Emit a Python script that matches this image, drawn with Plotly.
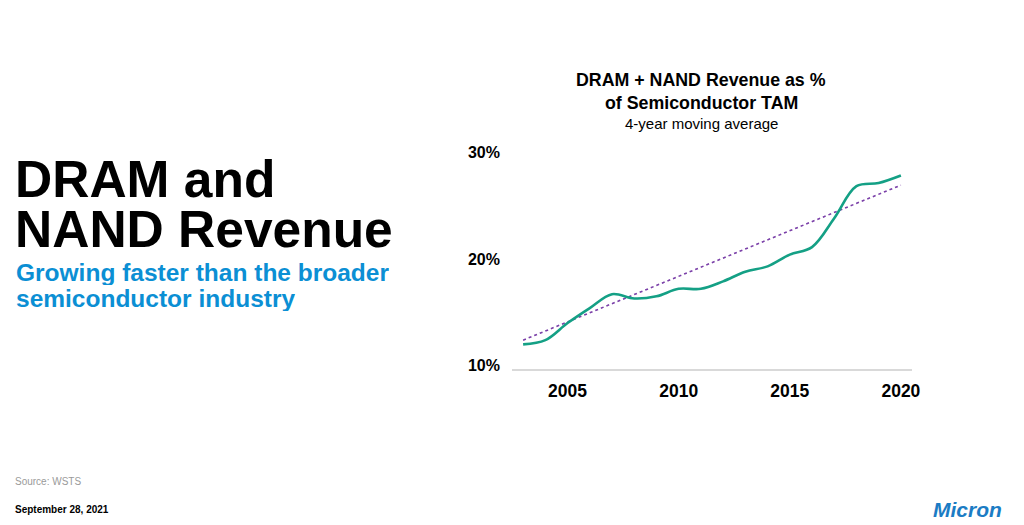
import plotly.graph_objects as go

years = [2003, 2004, 2005, 2006, 2007, 2008, 2009, 2010, 2011, 2012,
         2013, 2014, 2015, 2016, 2017, 2018, 2019, 2020]
share_pct = [12.0, 12.4, 14.0, 15.4, 16.7, 16.3, 16.5, 17.2, 17.2, 17.9,
             18.8, 19.3, 20.4, 21.1, 23.8, 26.8, 27.1, 27.8]
trend_years = [2003, 2020]
trend_pct = [12.4, 26.9]
x_ticks = [2005, 2010, 2015, 2020]
y_ticks = [10, 20, 30]

W, H = 1024, 525
L, R, T, B = 512, 912, 152, 369


def px(x):
    return (x - L) / (R - L)


def py(y):
    return (B - y) / (B - T)


FONT = "Liberation Sans, Arial, sans-serif"

fig = go.Figure()
fig.add_trace(go.Scatter(
    x=trend_years, y=trend_pct, mode="lines",
    line=dict(color="#7A3FA8", width=1.6, dash="dot"),
    hoverinfo="skip", showlegend=False))
fig.add_trace(go.Scatter(
    x=years, y=share_pct, mode="lines",
    line=dict(color="#14A085", width=2.6, shape="spline", smoothing=1.0),
    showlegend=False))

ann = []


def text(s, x, y, size, color="#000000", bold=False, xanchor="left", yanchor="middle",
         align="left", height=None):
    d = dict(text=s, x=px(x), y=py(y), xref="paper", yref="paper",
             showarrow=False, xanchor=xanchor, yanchor=yanchor, align=align,
             font=dict(family=FONT, size=size, color=color,
                       weight="bold" if bold else "normal"))
    if height:
        d["height"] = height
    ann.append(d)


text("DRAM and", 13, 179, 51.5, bold=True, height=48)
text("NAND Revenue", 13, 229, 51.5, bold=True, height=48)
text("Growing faster than the broader", 14, 272, 24.5, color="#0B8FD4", bold=True, height=25)
text("semiconductor industry", 14, 298, 24.5, color="#0B8FD4", bold=True, height=25)
text("DRAM + NAND Revenue as %", 701, 80, 17.8, bold=True, xanchor="center")
text("of Semiconductor TAM", 701, 103, 17.8, bold=True, xanchor="center")
text("4-year moving average", 701, 123, 15, xanchor="center")
text("Source: WSTS", 13, 481, 10, color="#9a9a9a")
text("September 28, 2021", 13, 509, 10, bold=True)
text("<i>Micron</i>", 967, 509, 21, color="#1B7CC4", bold=True, xanchor="center")

fig.update_layout(
    width=W, height=H, autosize=False,
    margin=dict(l=L, r=W - R, t=T, b=H - B, pad=0),
    paper_bgcolor="white", plot_bgcolor="white",
    annotations=ann,
    xaxis=dict(range=[2002.5, 2020.5], tickvals=x_ticks,
               ticktext=[str(v) for v in x_ticks],
               showgrid=False, zeroline=False, showline=True,
               linecolor="#d9d9d9", linewidth=1.5, ticks="",
               tickfont=dict(family=FONT, size=17.5, color="#000", weight="bold"),
               ticklabelstandoff=5),
    yaxis=dict(range=[9.7, 30], tickvals=y_ticks,
               ticktext=[f"{v}%" for v in y_ticks],
               showgrid=False, zeroline=False, showline=False, ticks="",
               tickfont=dict(family=FONT, size=16, color="#000", weight="bold"),
               ticklabelstandoff=11),
)

fig.write_html("out.html")
